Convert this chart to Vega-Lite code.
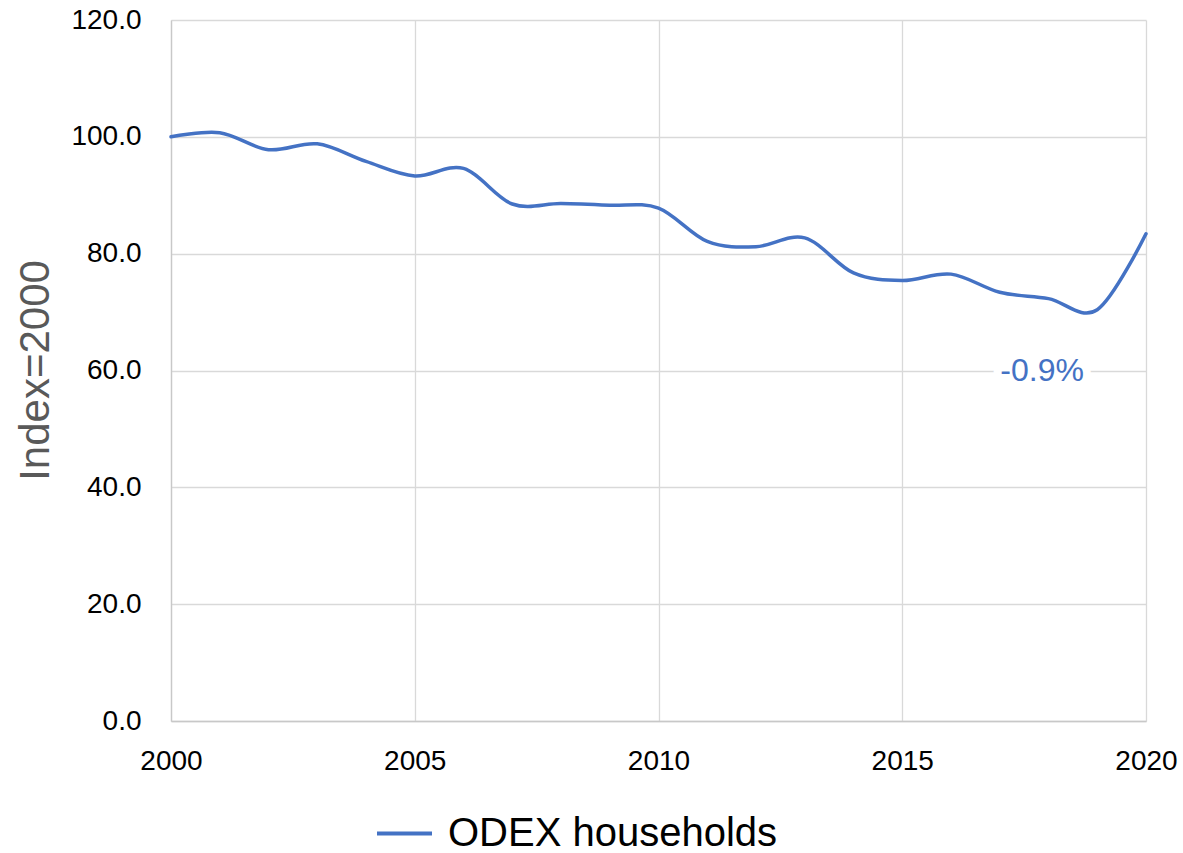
{
  "$schema": "https://vega.github.io/schema/vega-lite/v6.json",
  "width": 975,
  "height": 701,
  "autosize": {"type": "none"},
  "padding": {"left": 171, "top": 20, "right": 37, "bottom": 132},
  "background": "white",
  "config": {"view": {"stroke": null}, "font": "Liberation Sans"},
  "datasets": {
    "series": [
      {"year": 2000, "value": 100.0, "series": "ODEX households"},
      {"year": 2001, "value": 100.7, "series": "ODEX households"},
      {"year": 2002, "value": 97.8, "series": "ODEX households"},
      {"year": 2003, "value": 98.8, "series": "ODEX households"},
      {"year": 2004, "value": 95.8, "series": "ODEX households"},
      {"year": 2005, "value": 93.3, "series": "ODEX households"},
      {"year": 2006, "value": 94.6, "series": "ODEX households"},
      {"year": 2007, "value": 88.5, "series": "ODEX households"},
      {"year": 2008, "value": 88.6, "series": "ODEX households"},
      {"year": 2009, "value": 88.3, "series": "ODEX households"},
      {"year": 2010, "value": 87.8, "series": "ODEX households"},
      {"year": 2011, "value": 82.1, "series": "ODEX households"},
      {"year": 2012, "value": 81.2, "series": "ODEX households"},
      {"year": 2013, "value": 82.7, "series": "ODEX households"},
      {"year": 2014, "value": 76.7, "series": "ODEX households"},
      {"year": 2015, "value": 75.4, "series": "ODEX households"},
      {"year": 2016, "value": 76.5, "series": "ODEX households"},
      {"year": 2017, "value": 73.4, "series": "ODEX households"},
      {"year": 2018, "value": 72.3, "series": "ODEX households"},
      {"year": 2019, "value": 70.4, "series": "ODEX households"},
      {"year": 2020, "value": 83.4, "series": "ODEX households"}
    ],
    "notes": [
      {"year": 2017.87, "value": 60, "label": "-0.9%"}
    ]
  },
  "layer": [
    {
      "data": {"name": "series"},
      "mark": {"type": "line", "interpolate": "cardinal", "strokeWidth": 3.5, "strokeCap": "round"},
      "encoding": {
        "x": {
          "field": "year", "type": "quantitative",
          "scale": {"domain": [2000, 2020], "nice": false, "zero": false},
          "axis": {
            "values": [2000, 2005, 2010, 2015, 2020], "format": "d",
            "title": null, "grid": true, "gridColor": "#d9d9d9", "gridWidth": 1.3,
            "ticks": false, "domain": true, "domainColor": "#c8c8c8", "domainWidth": 1.3,
            "labelFontSize": 28, "labelColor": "#000000", "labelPadding": 26,
            "labelFlush": false, "labelOverlap": false
          }
        },
        "y": {
          "field": "value", "type": "quantitative",
          "scale": {"domain": [0, 120], "nice": false},
          "axis": {
            "values": [0, 20, 40, 60, 80, 100, 120], "format": ".1f",
            "title": "Index=2000", "titleFontSize": 42, "titleFontWeight": "normal",
            "titleColor": "#595959", "titleX": -136, "titleY": 350, "titleAngle": -90,
            "titleAlign": "center", "titleBaseline": "middle",
            "grid": true, "gridColor": "#d9d9d9", "gridWidth": 1.3,
            "ticks": false, "domain": true, "domainColor": "#c8c8c8", "domainWidth": 1.3,
            "labelFontSize": 28, "labelColor": "#000000", "labelPadding": 30,
            "labelFlush": false, "labelOverlap": false
          }
        },
        "color": {
          "field": "series", "type": "nominal",
          "scale": {"range": ["#4472C4"]},
          "legend": {
            "orient": "none", "legendX": 204, "legendY": 784, "title": null,
            "labelFontSize": 40, "labelColor": "#000000", "labelOffset": 14, "labelLimit": 0,
            "symbolType": "stroke", "symbolSize": 3025, "symbolStrokeWidth": 4
          }
        }
      }
    },
    {
      "data": {"name": "notes"},
      "mark": {"type": "text", "fontSize": 32, "fill": "white", "stroke": "white", "strokeWidth": 16, "strokeJoin": "round", "align": "center", "baseline": "middle"},
      "encoding": {
        "x": {"field": "year", "type": "quantitative"},
        "y": {"field": "value", "type": "quantitative"},
        "text": {"field": "label"}
      }
    },
    {
      "data": {"name": "notes"},
      "mark": {"type": "text", "fontSize": 32, "fill": "#4472C4", "align": "center", "baseline": "middle"},
      "encoding": {
        "x": {"field": "year", "type": "quantitative"},
        "y": {"field": "value", "type": "quantitative"},
        "text": {"field": "label"}
      }
    }
  ]
}
